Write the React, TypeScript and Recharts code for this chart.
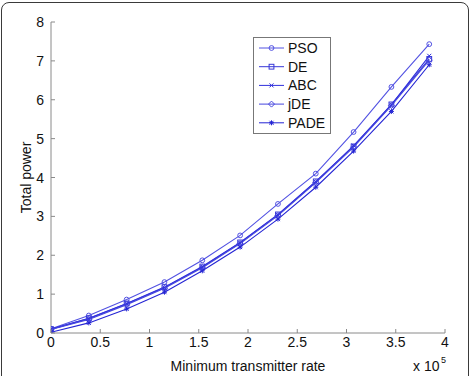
import React from 'react';
import { LineChart, Line, XAxis, YAxis, Legend } from 'recharts';

const rates = [0, 38400, 76800, 115200, 153600, 192000, 230400, 268800, 307200, 345600, 384000];
const pso = [0.11, 0.45, 0.86, 1.31, 1.87, 2.51, 3.32, 4.10, 5.17, 6.33, 7.43];
const de = [0.10, 0.38, 0.76, 1.18, 1.71, 2.33, 3.05, 3.90, 4.80, 5.88, 7.05];
const abc = [0.10, 0.37, 0.75, 1.17, 1.70, 2.32, 3.04, 3.89, 4.82, 5.87, 7.13];
const jde = [0.09, 0.35, 0.73, 1.15, 1.68, 2.30, 3.02, 3.87, 4.78, 5.85, 7.02];
const pade = [0.02, 0.26, 0.62, 1.05, 1.60, 2.21, 2.93, 3.75, 4.68, 5.70, 6.90];

const xTicks = [0, 50000, 100000, 150000, 200000, 250000, 300000, 350000, 400000];
const yTicks = [0, 1, 2, 3, 4, 5, 6, 7, 8];

const seriesNames = ['PSO', 'DE', 'ABC', 'jDE', 'PADE'];
const seriesValues = [pso, de, abc, jde, pade];
const seriesColors = ['#5252e2', '#3838d8', '#3030dc', '#4646de', '#2424d4'];
const seriesShapes = ['circle', 'square', 'x', 'diamond', 'star'];

const data = rates.map((r, i) => {
  const row: any = { rate: r };
  seriesNames.forEach((n, k) => { row[n] = seriesValues[k][i]; });
  return row;
});

const AXIS = '#8a8a8a';
const FONT = '"Liberation Sans", Arial, Helvetica, sans-serif';

function markerEl(shape: string, cx: number, cy: number, color: string, key?: any) {
  const r = 2.4;
  switch (shape) {
    case 'circle':
      return <circle key={key} cx={cx} cy={cy} r={r} fill="none" stroke={color} strokeWidth={1} />;
    case 'square':
      return <rect key={key} x={cx - r} y={cy - r} width={2 * r} height={2 * r} fill="none" stroke={color} strokeWidth={1} />;
    case 'x':
      return (
        <g key={key} stroke={color} strokeWidth={1}>
          <line x1={cx - 2} y1={cy - 2} x2={cx + 2} y2={cy + 2} />
          <line x1={cx - 2} y1={cy + 2} x2={cx + 2} y2={cy - 2} />
        </g>
      );
    case 'diamond':
      return <path key={key} d={`M${cx},${cy - 3}L${cx + 3},${cy}L${cx},${cy + 3}L${cx - 3},${cy}Z`} fill="none" stroke={color} strokeWidth={1} />;
    default:
      return (
        <g key={key} stroke={color} strokeWidth={1}>
          <line x1={cx - 2.5} y1={cy} x2={cx + 2.5} y2={cy} />
          <line x1={cx} y1={cy - 2.5} x2={cx} y2={cy + 2.5} />
          <line x1={cx - 2} y1={cy - 2} x2={cx + 2} y2={cy + 2} />
          <line x1={cx - 2} y1={cy + 2} x2={cx + 2} y2={cy - 2} />
        </g>
      );
  }
}

const fmtX = (v: number) => String(v / 100000);

const BottomTick = (props: any) => {
  const { x, y, payload } = props;
  return (
    <g>
      <line x1={x} y1={y} x2={x} y2={y - 4} stroke={AXIS} />
      <text x={x} y={y + 14} textAnchor="middle" fontSize={14} fontFamily={FONT} fill="#111">{fmtX(payload.value)}</text>
    </g>
  );
};
const TopTick = (props: any) => {
  const { x, y } = props;
  return <line x1={x} y1={y} x2={x} y2={y + 4} stroke={AXIS} />;
};
const LeftTick = (props: any) => {
  const { x, y, payload } = props;
  return (
    <g>
      <line x1={x} y1={y} x2={x + 4} y2={y} stroke={AXIS} />
      <text x={x - 7} y={y + 5} textAnchor="end" fontSize={14} fontFamily={FONT} fill="#111">{payload.value}</text>
    </g>
  );
};
const RightTick = (props: any) => {
  const { x, y } = props;
  return <line x1={x} y1={y} x2={x - 4} y2={y} stroke={AXIS} />;
};

const LegendBox = () => (
  <svg width={78} height={97} style={{ display: 'block' }}>
    <rect x={0.5} y={0.5} width={77} height={96} fill="#fff" stroke="#777" strokeWidth={1} />
    {seriesNames.map((n, i) => {
      const yy = 11 + i * 18.7;
      return (
        <g key={n}>
          <line x1={6} y1={yy} x2={31} y2={yy} stroke={seriesColors[i]} strokeWidth={1} />
          {markerEl(seriesShapes[i], 18.5, yy, seriesColors[i])}
          <text x={35} y={yy + 5} fontSize={14} fontFamily={FONT} fill="#111">{n}</text>
        </g>
      );
    })}
  </svg>
);

export default function App() {
  return (
    <div style={{ position: 'fixed', left: 0, top: 0, width: 474, height: 376, overflow: 'hidden', background: '#fff' }}>
      <div style={{ position: 'absolute', left: 1, top: 2, width: 468, height: 400, border: '1px solid #3a3a3a', borderRadius: 8, boxSizing: 'border-box' }} />
      <div style={{ position: 'absolute', left: 0, top: 0 }}>
        <LineChart width={474} height={376} data={data} margin={{ top: 22, right: 29, bottom: 0, left: 0 }}>
          <XAxis xAxisId="b" dataKey="rate" type="number" domain={[0, 400000]} ticks={xTicks} height={43}
            axisLine={{ stroke: AXIS }} tickLine={false} tickSize={0} tickMargin={0} tick={<BottomTick />} interval={0} allowDataOverflow />
          <XAxis xAxisId="t" orientation="top" dataKey="rate" type="number" domain={[0, 400000]} ticks={xTicks} height={0}
            axisLine={{ stroke: AXIS }} tickLine={false} tickSize={0} tickMargin={0} tick={<TopTick />} interval={0} allowDataOverflow />
          <YAxis yAxisId="l" type="number" domain={[0, 8]} ticks={yTicks} width={51}
            axisLine={{ stroke: AXIS }} tickLine={false} tickSize={0} tickMargin={0} tick={<LeftTick />} interval={0} allowDataOverflow />
          <YAxis yAxisId="r" orientation="right" type="number" domain={[0, 8]} ticks={yTicks} width={0}
            axisLine={{ stroke: AXIS }} tickLine={false} tickSize={0} tickMargin={0} tick={<RightTick />} interval={0} allowDataOverflow />
          {seriesNames.map((n, i) => (
            <Line key={n} xAxisId="b" yAxisId="l" type="linear" dataKey={n} stroke={seriesColors[i]} strokeWidth={1.1}
              isAnimationActive={false}
              dot={(p: any) => markerEl(seriesShapes[i], p.cx, p.cy, seriesColors[i], `${n}-${p.index}`)}
              activeDot={false} />
          ))}
          <Legend layout="horizontal" verticalAlign="middle" align="center" content={() => <LegendBox />}
            wrapperStyle={{ position: 'absolute', left: 253, top: 37, width: 78, height: 97 }} />
        </LineChart>
      </div>
      <svg width={474} height={376} style={{ position: 'absolute', left: 0, top: 0, pointerEvents: 'none' }}>
        <text x={31} y={177.5} transform="rotate(-90 31 177.5)" textAnchor="middle" fontSize={14} fontFamily={FONT} fill="#111">Total power</text>
        <text x={248} y={371} textAnchor="middle" fontSize={14} fontFamily={FONT} fill="#111">Minimum transmitter rate</text>
        <text x={413} y={371} fontSize={14} fontFamily={FONT} fill="#111">x 10</text>
        <text x={441} y={363} fontSize={9} fontFamily={FONT} fill="#111">5</text>
      </svg>
    </div>
  );
}
